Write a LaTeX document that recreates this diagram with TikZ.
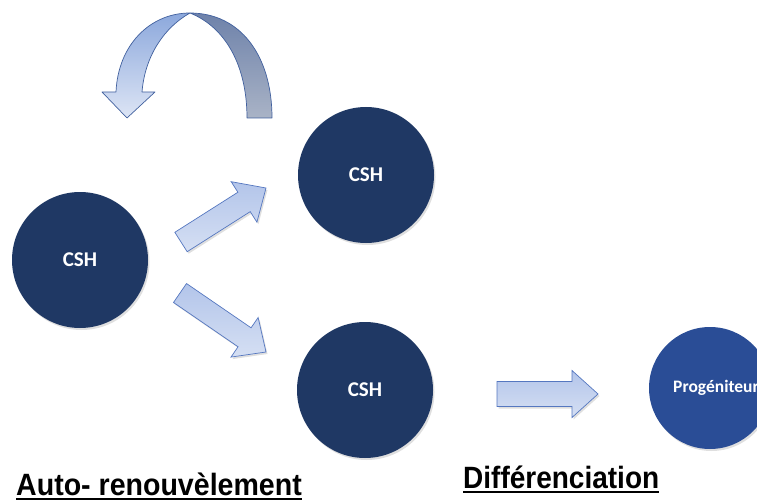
\documentclass[tikz,border=0pt]{standalone}
\usepackage{fontspec}
\setmainfont{Carlito}
\newfontfamily\labfont{Liberation Sans}
\usetikzlibrary{calc,shadows}
\definecolor{csh}{HTML}{1F3864}
\definecolor{progen}{HTML}{2A4D96}
\definecolor{arrowline}{HTML}{5577C0}
\definecolor{arrowtop}{HTML}{B3C5EA}
\definecolor{arrowbot}{HTML}{D5DFF3}
\definecolor{curveline}{HTML}{41609E}
\definecolor{darktop}{HTML}{6E82AA}
\definecolor{darkbot}{HTML}{A9B3C6}
\definecolor{lighttop}{HTML}{8CA8DC}
\definecolor{lightbot}{HTML}{DDE5F5}
\newcommand\blockarrow[5]{%
  \path ($(#2)!#5!(#1)$) coordinate (ba-h);
  \shadedraw[blockstyle] ($(#1)!#3!90:(#2)$) -- ($(ba-h)!#3!-90:(#1)$) -- ($(ba-h)!#4!-90:(#1)$) -- (#2) -- ($(ba-h)!#4!90:(#1)$) -- ($(ba-h)!#3!90:(#1)$) -- ($(#1)!#3!-90:(#2)$) -- cycle;}
\begin{document}
\begin{tikzpicture}[x=1pt,y=-1pt,
  softshadow/.style={drop shadow={opacity=0.25,shadow xshift=1.5pt,shadow yshift=-2pt}},
  cell/.style={circle,fill=csh,minimum size=136pt,inner sep=0pt,text=white,
    font=\fontsize{21}{25}\selectfont\bfseries,softshadow},
  blockstyle/.style={draw=arrowline,line width=0.7pt,top color=arrowtop,bottom color=arrowbot,softshadow},
  curvedark/.style={draw=curveline,line width=0.7pt,top color=darktop,bottom color=darkbot,line join=round},
  curvelight/.style={draw=curveline,line width=0.7pt,top color=lighttop,bottom color=lightbot,line join=round},
  lab/.style={inner sep=0pt,font={\labfont\bfseries\fontsize{28}{30}\selectfont}},
  uline/.style={line width=2pt}]
\useasboundingbox (0,0) rectangle (757,500);
\clip (0,0) rectangle (757,500);
% cells
\node[cell] (c1) at (80,260) {CSH};
\node[cell] (c2) at (366,175) {CSH};
\node[cell] (c3) at (365,390) {CSH};
\node[cell,fill=progen,minimum size=122pt] (p) at (710,388) {};
\node[inner sep=0pt,text=white,font=\fontsize{17.5}{20}\selectfont\bfseries] (pl) at ([xshift=6pt]p.center) {Progéniteur};
% curved self-renewal arrow
\shadedraw[curvedark] (190,13) .. controls (240,13) and (272,55) .. (272,118) -- (247,118) .. controls (247,65) and (225,27) .. (190,13) -- cycle;
\shadedraw[curvelight] (190,13) .. controls (150,13) and (118,45) .. (116,92) -- (102,92) -- (127,118) -- (155,92) -- (142,92) .. controls (145,55) and (165,27) .. (190,13) -- cycle;
% block arrows
\coordinate (a1t) at (181,242); \coordinate (a1h) at (266,188);
\coordinate (a2t) at (180,293); \coordinate (a2h) at (266,352);
\coordinate (a3t) at (497,394); \coordinate (a3h) at (598,394);
\blockarrow{a1t}{a1h}{11.5pt}{24pt}{26pt}
\blockarrow{a2t}{a2h}{11.5pt}{24pt}{26pt}
\blockarrow{a3t}{a3h}{12.5pt}{23.5pt}{26pt}
% labels
\node[lab,anchor=base west] (l1) at (16,495) {\scalebox{1.02}[1.1]{Auto- renouvèlement}};
\draw[uline] ([yshift=-3.5pt]l1.base west) -- ([yshift=-3.5pt]l1.base east);
\node[lab,anchor=base west] (l2) at (463,488) {\scalebox{1}[1.1]{Différenciation}};
\draw[uline] ([yshift=-3.5pt]l2.base west) -- ([yshift=-3.5pt]l2.base east);
\end{tikzpicture}
\end{document}
